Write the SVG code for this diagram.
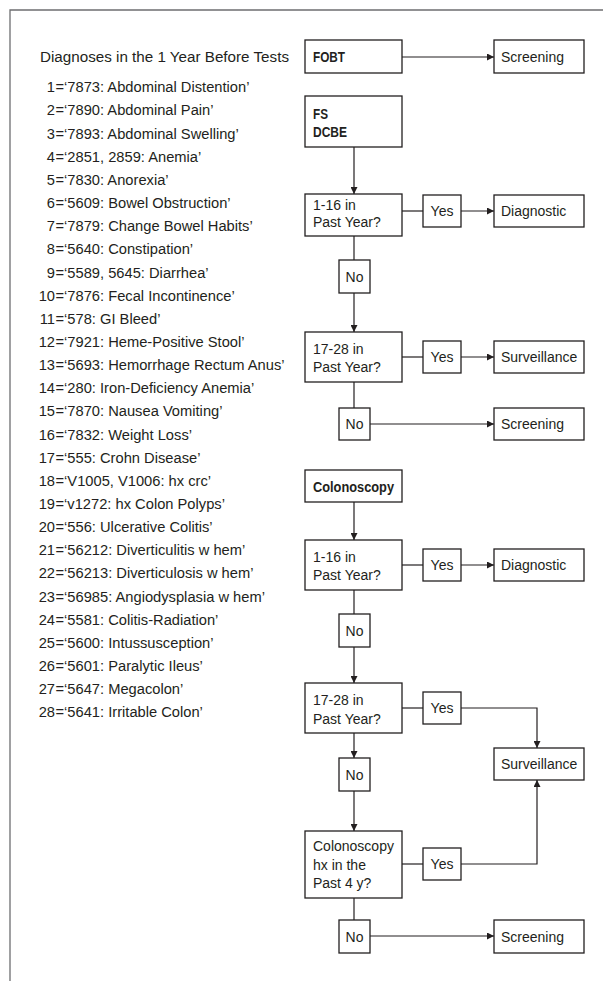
<svg xmlns="http://www.w3.org/2000/svg" width="603" height="981" viewBox="0 0 603 981">
<defs>
<marker id="ah" viewBox="0 0 10 10" refX="10" refY="5" markerWidth="7" markerHeight="7" markerUnits="userSpaceOnUse" orient="auto">
<path d="M0,0 L10,5 L0,10 z" fill="#231f20"/>
</marker>
<style>
text{font-family:"Liberation Sans",Arial,sans-serif;fill:#231f20}
.l{font-size:14.7px}
.n{font-size:14.7px;text-anchor:end}
.f{font-size:14px}
.b{font-size:14px;font-weight:bold}
.c{font-size:14px;text-anchor:middle}
rect{fill:#fff;stroke:#231f20;stroke-width:1.3}
.con path,.con line{fill:none;stroke:#231f20;stroke-width:1.2}
.frame{fill:none;stroke:#6d6e70;stroke-width:1.3}
</style>
</defs>
<rect width="603" height="981" style="fill:#fff;stroke:none"/>
<path class="frame" d="M10,981 V10 H603"/>

<g id="legend">
<text class="l" x="40" y="62" textLength="249" lengthAdjust="spacingAndGlyphs">Diagnoses in the 1 Year Before Tests</text>
<g class="items">
<text class="n" x="55" y="92.3">1</text><text class="l" x="55.5" y="92.3">=‘7873: Abdominal Distention’</text>
<text class="n" x="55" y="115.45">2</text><text class="l" x="55.5" y="115.45">=‘7890: Abdominal Pain’</text>
<text class="n" x="55" y="138.6">3</text><text class="l" x="55.5" y="138.6">=‘7893: Abdominal Swelling’</text>
<text class="n" x="55" y="161.75">4</text><text class="l" x="55.5" y="161.75">=‘2851, 2859: Anemia’</text>
<text class="n" x="55" y="184.9">5</text><text class="l" x="55.5" y="184.9">=‘7830: Anorexia’</text>
<text class="n" x="55" y="208.05">6</text><text class="l" x="55.5" y="208.05">=‘5609: Bowel Obstruction’</text>
<text class="n" x="55" y="231.2">7</text><text class="l" x="55.5" y="231.2">=‘7879: Change Bowel Habits’</text>
<text class="n" x="55" y="254.35">8</text><text class="l" x="55.5" y="254.35">=‘5640: Constipation’</text>
<text class="n" x="55" y="277.5">9</text><text class="l" x="55.5" y="277.5">=‘5589, 5645: Diarrhea’</text>
<text class="n" x="55" y="300.65">10</text><text class="l" x="55.5" y="300.65">=‘7876: Fecal Incontinence’</text>
<text class="n" x="55" y="323.8">11</text><text class="l" x="55.5" y="323.8">=‘578: GI Bleed’</text>
<text class="n" x="55" y="346.95">12</text><text class="l" x="55.5" y="346.95">=‘7921: Heme-Positive Stool’</text>
<text class="n" x="55" y="370.1">13</text><text class="l" x="55.5" y="370.1">=‘5693: Hemorrhage Rectum Anus’</text>
<text class="n" x="55" y="393.25">14</text><text class="l" x="55.5" y="393.25">=‘280: Iron-Deficiency Anemia’</text>
<text class="n" x="55" y="416.4">15</text><text class="l" x="55.5" y="416.4">=‘7870: Nausea Vomiting’</text>
<text class="n" x="55" y="439.55">16</text><text class="l" x="55.5" y="439.55">=‘7832: Weight Loss’</text>
<text class="n" x="55" y="462.7">17</text><text class="l" x="55.5" y="462.7">=‘555: Crohn Disease’</text>
<text class="n" x="55" y="485.85">18</text><text class="l" x="55.5" y="485.85">=‘V1005, V1006: hx crc’</text>
<text class="n" x="55" y="509">19</text><text class="l" x="55.5" y="509">=‘v1272: hx Colon Polyps’</text>
<text class="n" x="55" y="532.15">20</text><text class="l" x="55.5" y="532.15">=‘556: Ulcerative Colitis’</text>
<text class="n" x="55" y="555.3">21</text><text class="l" x="55.5" y="555.3">=‘56212: Diverticulitis w hem’</text>
<text class="n" x="55" y="578.45">22</text><text class="l" x="55.5" y="578.45">=‘56213: Diverticulosis w hem’</text>
<text class="n" x="55" y="601.6">23</text><text class="l" x="55.5" y="601.6">=‘56985: Angiodysplasia w hem’</text>
<text class="n" x="55" y="624.75">24</text><text class="l" x="55.5" y="624.75">=‘5581: Colitis-Radiation’</text>
<text class="n" x="55" y="647.9">25</text><text class="l" x="55.5" y="647.9">=‘5600: Intussusception’</text>
<text class="n" x="55" y="671.05">26</text><text class="l" x="55.5" y="671.05">=‘5601: Paralytic Ileus’</text>
<text class="n" x="55" y="694.2">27</text><text class="l" x="55.5" y="694.2">=‘5647: Megacolon’</text>
<text class="n" x="55" y="717.35">28</text><text class="l" x="55.5" y="717.35">=‘5641: Irritable Colon’</text>
</g>
</g>

<g class="con" id="connectors">
<line x1="402" y1="57" x2="494" y2="57" marker-end="url(#ah)"/>
<line x1="354" y1="147" x2="354" y2="194" marker-end="url(#ah)"/>
<line x1="402" y1="211" x2="423" y2="211"/>
<line x1="461" y1="211" x2="494" y2="211" marker-end="url(#ah)"/>
<line x1="354" y1="236" x2="354" y2="260"/>
<line x1="354" y1="293" x2="354" y2="332" marker-end="url(#ah)"/>
<line x1="402" y1="357" x2="423" y2="357"/>
<line x1="461" y1="357" x2="494" y2="357" marker-end="url(#ah)"/>
<line x1="354" y1="382" x2="354" y2="408"/>
<line x1="370" y1="424" x2="494" y2="424" marker-end="url(#ah)"/>
<line x1="354" y1="502" x2="354" y2="540" marker-end="url(#ah)"/>
<line x1="402" y1="565" x2="423" y2="565"/>
<line x1="461" y1="565" x2="494" y2="565" marker-end="url(#ah)"/>
<line x1="354" y1="590" x2="354" y2="614"/>
<line x1="354" y1="647" x2="354" y2="683" marker-end="url(#ah)"/>
<line x1="402" y1="708" x2="423" y2="708"/>
<path d="M461,708 H537 V748" marker-end="url(#ah)"/>
<line x1="354" y1="733" x2="354" y2="758" marker-end="url(#ah)"/>
<line x1="354" y1="791" x2="354" y2="831" marker-end="url(#ah)"/>
<line x1="402" y1="864" x2="423" y2="864"/>
<path d="M461,864 H537 V780" marker-end="url(#ah)"/>
<line x1="354" y1="898" x2="354" y2="920"/>
<line x1="370" y1="936" x2="494" y2="936" marker-end="url(#ah)"/>
</g>

<g id="fobt"><rect x="305" y="40" width="97" height="33"/><text class="b" x="313" y="62" textLength="32" lengthAdjust="spacingAndGlyphs">FOBT</text></g>
<g id="screening1"><rect x="494" y="40" width="90" height="33"/><text class="f" x="501" y="62">Screening</text></g>

<g id="fsdcbe"><rect x="305" y="96" width="97" height="51"/><text class="b" x="313" y="118.5" textLength="15" lengthAdjust="spacingAndGlyphs">FS</text><text class="b" x="313" y="137" textLength="34" lengthAdjust="spacingAndGlyphs">DCBE</text></g>
<g id="q1"><rect x="305" y="194" width="97" height="42"/><text class="f" x="313" y="210">1-16 in</text><text class="f" x="313" y="227">Past Year?</text></g>
<g id="yes1"><rect x="423" y="195" width="38" height="32"/><text class="c" x="442" y="216">Yes</text></g>
<g id="diagnostic1"><rect x="494" y="195" width="90" height="32"/><text class="f" x="501" y="216">Diagnostic</text></g>
<g id="no1"><rect x="339" y="260" width="31" height="33"/><text class="c" x="354.5" y="281.5">No</text></g>
<g id="q2"><rect x="305" y="332" width="97" height="50"/><text class="f" x="313" y="353.5">17-28 in</text><text class="f" x="313" y="372">Past Year?</text></g>
<g id="yes2"><rect x="423" y="341" width="38" height="32"/><text class="c" x="442" y="362">Yes</text></g>
<g id="surveillance1"><rect x="494" y="341" width="90" height="32"/><text class="f" x="501" y="362">Surveillance</text></g>
<g id="no2"><rect x="339" y="408" width="31" height="32"/><text class="c" x="354.5" y="429">No</text></g>
<g id="screening2"><rect x="494" y="408" width="90" height="32"/><text class="f" x="501" y="429">Screening</text></g>

<g id="colonoscopy"><rect x="305" y="470" width="97" height="32"/><text class="b" x="313" y="491.5" textLength="81" lengthAdjust="spacingAndGlyphs">Colonoscopy</text></g>
<g id="q3"><rect x="305" y="540" width="97" height="50"/><text class="f" x="313" y="562">1-16 in</text><text class="f" x="313" y="580">Past Year?</text></g>
<g id="yes3"><rect x="423" y="549" width="38" height="32"/><text class="c" x="442" y="570">Yes</text></g>
<g id="diagnostic2"><rect x="494" y="549" width="90" height="32"/><text class="f" x="501" y="570">Diagnostic</text></g>
<g id="no3"><rect x="339" y="614" width="31" height="33"/><text class="c" x="354.5" y="635.5">No</text></g>
<g id="q4"><rect x="305" y="683" width="97" height="50"/><text class="f" x="313" y="705">17-28 in</text><text class="f" x="313" y="723.5">Past Year?</text></g>
<g id="yes4"><rect x="423" y="692" width="38" height="32"/><text class="c" x="442" y="713">Yes</text></g>
<g id="surveillance2"><rect x="494" y="748" width="90" height="32"/><text class="f" x="501" y="769">Surveillance</text></g>
<g id="no4"><rect x="339" y="758" width="31" height="33"/><text class="c" x="354.5" y="779.5">No</text></g>
<g id="q5"><rect x="305" y="831" width="97" height="67"/><text class="f" x="313" y="851">Colonoscopy</text><text class="f" x="313" y="869.5">hx in the</text><text class="f" x="313" y="888">Past 4 y?</text></g>
<g id="yes5"><rect x="423" y="848" width="38" height="32"/><text class="c" x="442" y="869">Yes</text></g>
<g id="no5"><rect x="339" y="920" width="31" height="33"/><text class="c" x="354.5" y="941.5">No</text></g>
<g id="screening3"><rect x="494" y="920" width="90" height="33"/><text class="f" x="501" y="941.5">Screening</text></g>
</svg>
